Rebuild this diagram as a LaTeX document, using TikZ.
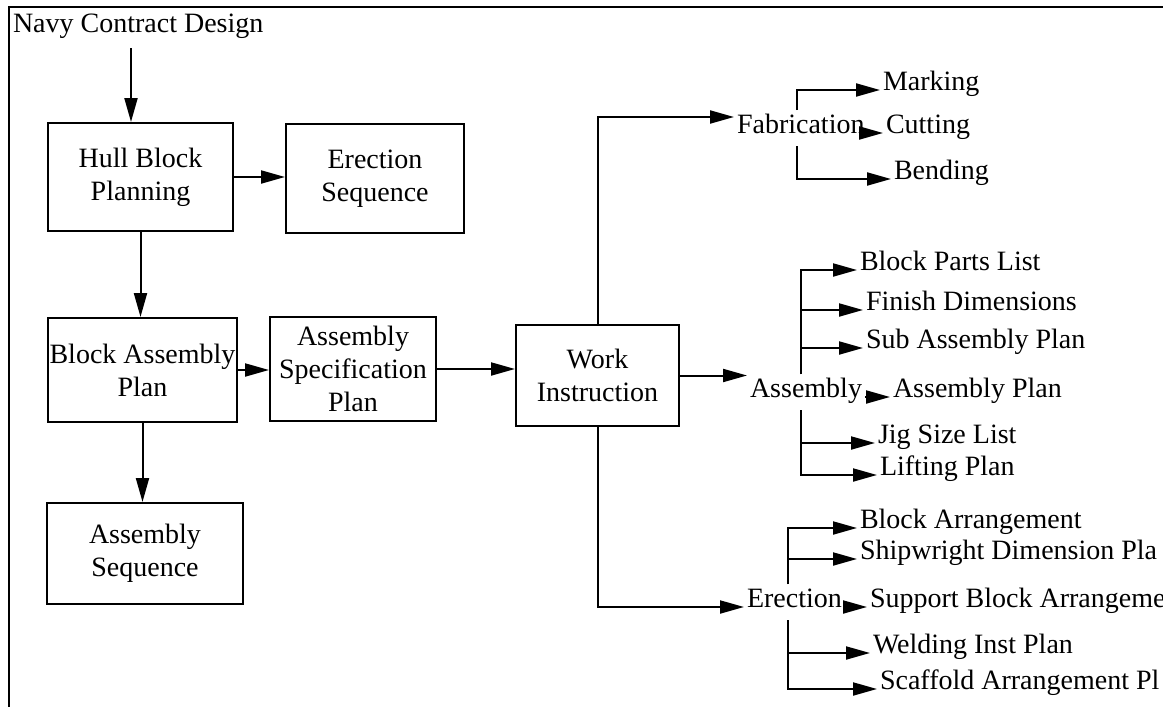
\documentclass[tikz,border=0pt]{standalone}
\usepackage{fontspec}
\setmainfont{Liberation Serif}
\usetikzlibrary{arrows.meta}

\begin{document}
\begin{tikzpicture}[x=0.5pt,y=-0.5pt,line width=1pt,
  >={Triangle[length=12pt,width=6.5pt]},
  font=\fontsize{14}{16.5}\selectfont,
  blk/.style={draw,align=center,inner sep=0pt},
  lbl/.style={anchor=base west,inner sep=1pt,text height=10pt,text depth=5pt}]
  \useasboundingbox (0,0) rectangle (1163,707);
  \draw[line width=0.8pt] (1163,7) -- (9,7) -- (9,707);
  \node[lbl] (ncd) at (10,32) {Navy Contract Design};

  \node[blk,minimum width=92.5pt,minimum height=54pt] (hbp) at (140.5,177) {Hull Block\\Planning};
  \node[blk,minimum width=89pt,minimum height=54.5pt] (eseq) at (375,178.5) {Erection\\Sequence};
  \node[blk,minimum width=94.5pt,minimum height=52pt] (bap) at (142.5,370) {Block Assembly\\Plan};
  \node[blk,minimum width=83pt,minimum height=52pt] (asp) at (353,369) {Assembly\\Specification\\Plan};
  \node[blk,minimum width=98pt,minimum height=50.5pt] (aseq) at (145,553.5) {Assembly\\Sequence};
  \node[blk,minimum width=81.5pt,minimum height=50.5pt] (wi) at (597.5,375.5) {Work\\Instruction};

  \node[lbl] (fab) at (734,133) {Fabrication};
  \node[lbl] (asm) at (747,397) {Assembly};
  \node[lbl] (ere) at (744,607) {Erection};

  \node[lbl] (mark) at (880,90) {Marking};
  \node[lbl] (cut) at (883,133) {Cutting};
  \node[lbl] (bend) at (891,179) {Bending};

  \node[lbl] (bpl) at (857,270) {Block Parts List};
  \node[lbl] (fdim) at (863,310) {Finish Dimensions};
  \node[lbl] (sap) at (863,348) {Sub Assembly Plan};
  \node[lbl] (ap) at (890,397) {Assembly Plan};
  \node[lbl] (jig) at (875,443) {Jig Size List};
  \node[lbl] (lift) at (877,475) {Lifting Plan};

  \node[lbl] (barr) at (857,528) {Block Arrangement};
  \node[lbl] (sdim) at (857,559) {Shipwright Dimension Pla};
  \node[lbl] (sba) at (867,607) {Support Block Arrangeme};
  \node[lbl] (wip) at (870,653) {Welding Inst Plan};
  \node[lbl] (scaf) at (877,689) {Scaffold Arrangement Pl};

  \coordinate (ncdout) at (131,48);
  \coordinate (fabx) at (797,0);
  \coordinate (asmx) at (801,0);
  \coordinate (erex) at (788,0);

  \draw[->] (ncdout) -- (ncdout |- hbp.north);
  \draw[->] (hbp.east) -- (hbp.east -| eseq.west);
  \draw[->] (hbp.south) -- (hbp.south |- bap.north);
  \draw[->] (bap.east) -- (bap.east -| asp.west);
  \draw[->] (bap.south) -- (bap.south |- aseq.north);
  \draw[->] (asp.east) -- (asp.east -| wi.west);

  \draw[->] (wi.north) |- ([yshift=8pt]fab.base west);
  \draw[->] (wi.east) -- (wi.east -| asm.west);
  \draw[->] (wi.south) |- (ere.base west);

  \draw[->] (fab.north -| fabx) |- (mark.base west);
  \draw[->] (fab.base east) -- (cut.base west);
  \draw[->] (fab.south -| fabx) |- (bend.base west);

  \draw[->] (asm.north -| asmx) |- (bpl.base west);
  \draw[->] (asm.north -| asmx) |- (fdim.base west);
  \draw[->] (asm.north -| asmx) |- (sap.base west);
  \draw[->] (asm.base east) -- (ap.base west);
  \draw[->] (asm.south -| asmx) |- (jig.base west);
  \draw[->] (asm.south -| asmx) |- (lift.base west);

  \draw[->] (ere.north -| erex) |- (barr.base west);
  \draw[->] (ere.north -| erex) |- (sdim.base west);
  \draw[->] (ere.base east) -- (sba.base west);
  \draw[->] (ere.south -| erex) |- (wip.base west);
  \draw[->] (ere.south -| erex) |- (scaf.base west);
\end{tikzpicture}
\end{document}
